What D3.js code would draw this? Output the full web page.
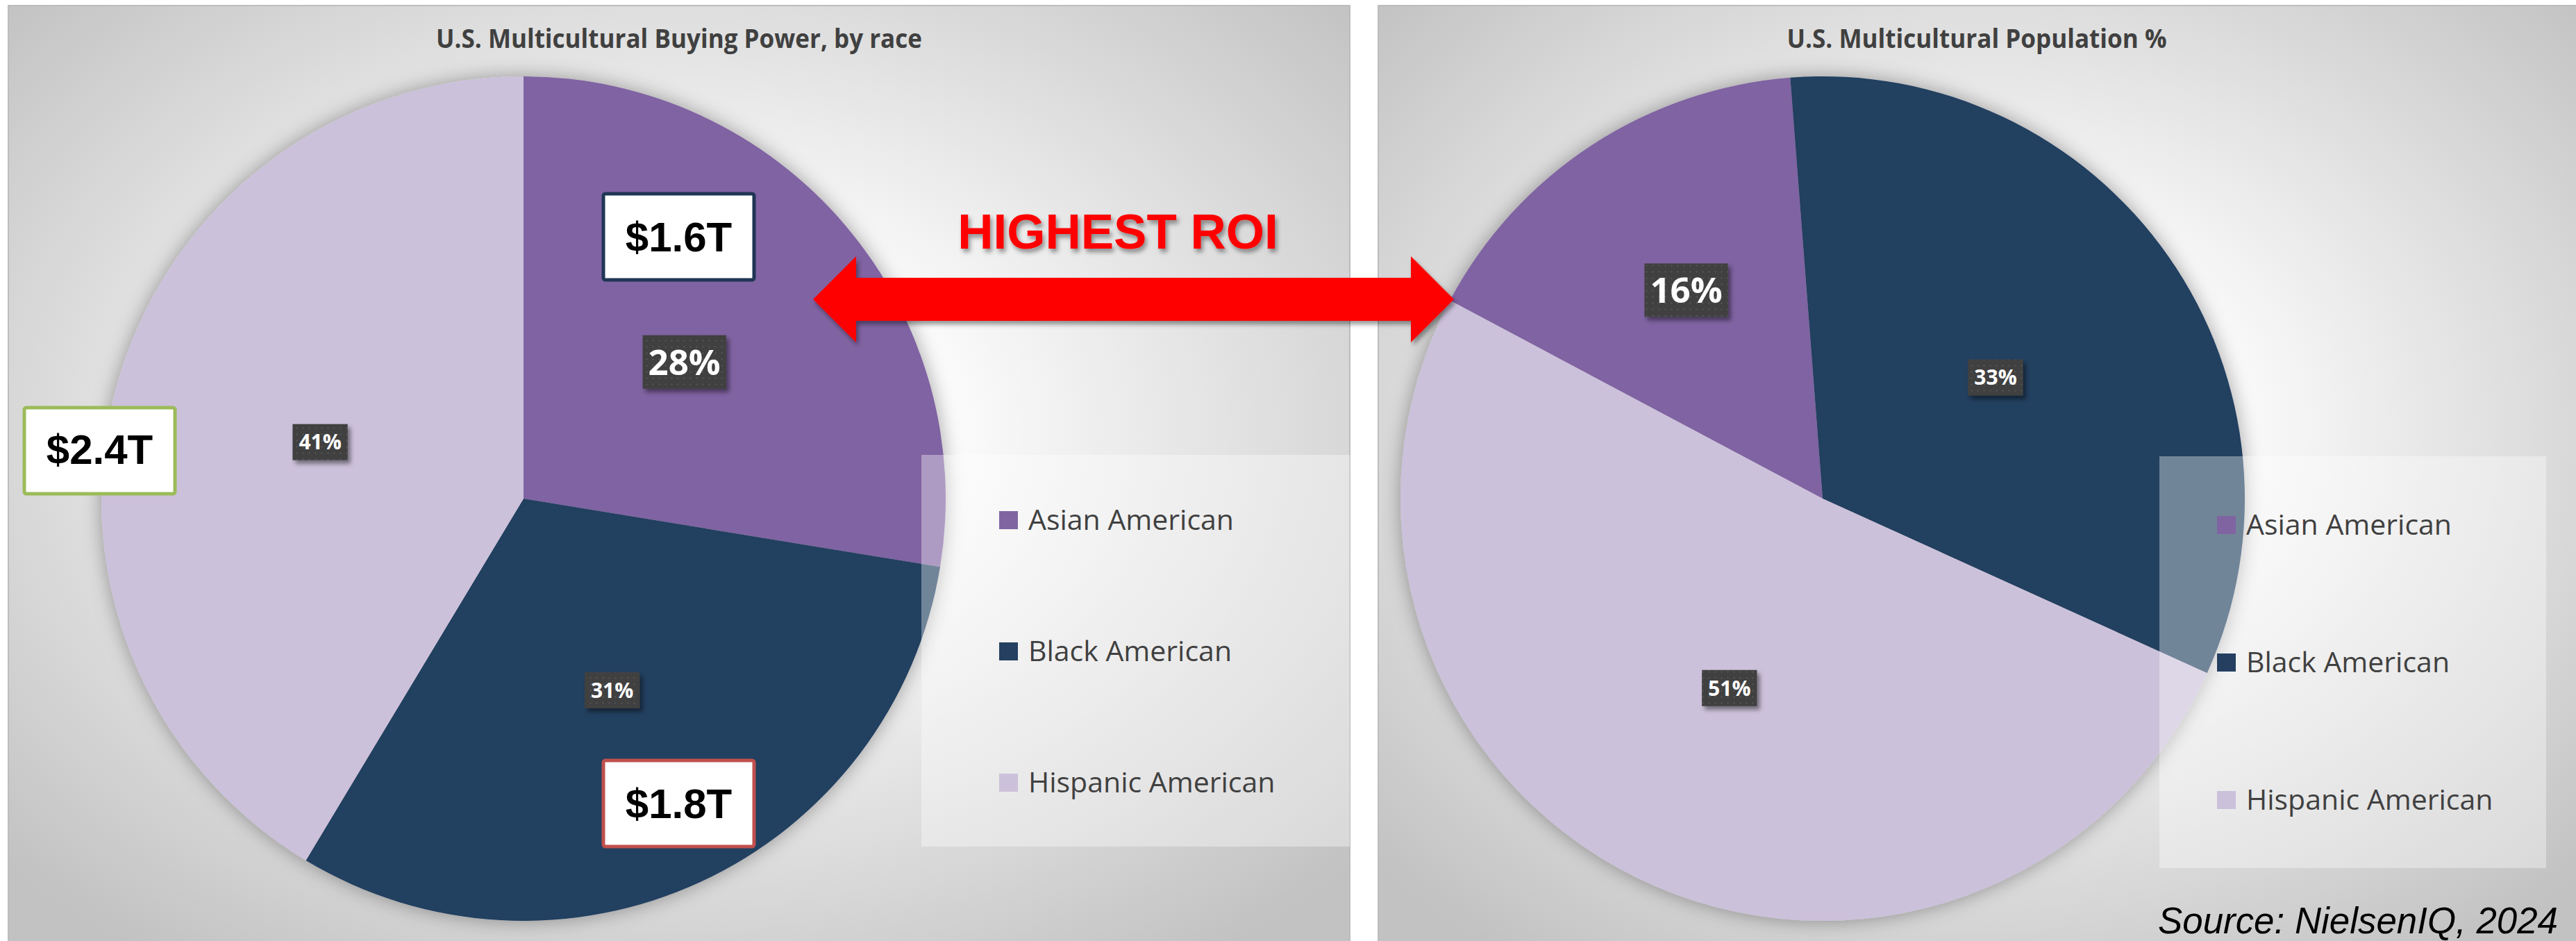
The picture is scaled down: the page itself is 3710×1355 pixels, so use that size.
<!DOCTYPE html>
<html lang="en">
<head>
<meta charset="UTF-8"/>
<title>U.S. Multicultural Buying Power vs Population</title>
<script src="https://d3js.org/d3.v7.min.js"></script>
<style>
  body { margin: 0; background: #ffffff; }
  svg { display: block; }
</style>
</head>
<body>
<script>
    // Data
    var races = ["Asian American", "Black American", "Hispanic American"];
    var buyingPower = [1.6, 1.8, 2.4];      // trillions of dollars
    var populationPct = [16, 33, 51];       // share of multicultural population
    var raceColours = ["#8064a2", "#243f60", "#ccc1da"];
    var titles = ["U.S. Multicultural Buying Power, by race", "U.S. Multicultural Population %"];
    var arrowLabel = "HIGHEST ROI";
    var sourceNote = "Source: NielsenIQ, 2024";

    var w = 3710;
    var h = 1355;
    var R = 608;

    var svg = d3.select("body")
        .append("svg")
        .attr("width", w)
        .attr("height", h);

    var defs = svg.append("defs");

    // Panel background gradient
    var grad = defs.append("radialGradient")
        .attr("id", "panelGrad")
        .attr("cx", "50%").attr("cy", "45%").attr("r", "68%");
    grad.append("stop").attr("offset", "0").attr("stop-color", "#ffffff");
    grad.append("stop").attr("offset", "0.3").attr("stop-color", "#fbfbfb");
    grad.append("stop").attr("offset", "1").attr("stop-color", "#c2c2c2");

    // Soft shadow round the pies
    var pieShadow = defs.append("filter").attr("id", "pieShadow")
        .attr("x", "-20%").attr("y", "-20%").attr("width", "140%").attr("height", "140%");
    pieShadow.append("feDropShadow")
        .attr("dx", 0).attr("dy", 0).attr("stdDeviation", 14)
        .attr("flood-color", "#000").attr("flood-opacity", 0.35);

    var boxShadow = defs.append("filter").attr("id", "boxShadow")
        .attr("x", "-30%").attr("y", "-30%").attr("width", "160%").attr("height", "160%");
    boxShadow.append("feDropShadow")
        .attr("dx", 4).attr("dy", 5).attr("stdDeviation", 3)
        .attr("flood-color", "#000").attr("flood-opacity", 0.45);

    var redShadow = defs.append("filter").attr("id", "redShadow")
        .attr("x", "-10%").attr("y", "-30%").attr("width", "120%").attr("height", "160%");
    redShadow.append("feDropShadow")
        .attr("dx", 3).attr("dy", 5).attr("stdDeviation", 3)
        .attr("flood-color", "#000").attr("flood-opacity", 0.4);

    // Dotted fill for the percentage labels
    var dots = defs.append("pattern").attr("id", "dots")
        .attr("width", 9).attr("height", 9).attr("patternUnits", "userSpaceOnUse");
    dots.append("rect").attr("width", 9).attr("height", 9).attr("fill", "#404040");
    dots.append("circle").attr("cx", 4.5).attr("cy", 4.5).attr("r", 1.1).attr("fill", "#5c5c5c");

    // Two panels
    var panels = [
        { x: 12, y: 8, w: 1932, h: 1360, cx: 754, cy: 718, values: buyingPower, start: 0,
          labelR: [0.5, 0.5, 0.5], legend: { x: 1327, y: 655, w: 617, h: 564, mx: 1439, tx: 1481, y0: 763, dy: 189 } },
        { x: 1985, y: 8, w: 1740, h: 1360, cx: 2625, cy: 718, values: populationPct, start: -62,
          labelR: [0.59, 0.5, 0.5], legend: { x: 3110, y: 657, w: 557, h: 593, mx: 3193, tx: 3235, y0: 770, dy: 198 } }
    ];

    panels.forEach(function(p, pi) {
        var g = svg.append("g");

        g.append("rect")
            .attr("x", p.x).attr("y", p.y)
            .attr("width", p.w).attr("height", p.h)
            .attr("fill", "url(#panelGrad)")
            .attr("stroke", "#bdbdbd")
            .attr("stroke-width", 2);

        g.append("text")
            .attr("x", p.x + p.w / 2 - (pi === 1 ? 8 : 0))
            .attr("y", 69)
            .attr("text-anchor", "middle")
            .attr("font-family", "'Open Sans', sans-serif")
            .attr("font-weight", "bold")
            .attr("font-size", 38)
            .attr("fill", "#404040")
            .attr("textLength", pi === 0 ? 700 : 547)
            .attr("lengthAdjust", "spacingAndGlyphs")
            .text(titles[pi]);

        var a0 = p.start * Math.PI / 180;
        var pie = d3.pie().sort(null).startAngle(a0).endAngle(a0 + 2 * Math.PI);
        var arcs = pie(p.values);
        var arc = d3.arc().innerRadius(0).outerRadius(R);
        var total = d3.sum(p.values);

        var pg = g.append("g")
            .attr("transform", "translate(" + p.cx + "," + p.cy + ")");

        pg.append("g")
            .attr("filter", "url(#pieShadow)")
            .selectAll("path")
            .data(arcs)
            .enter()
            .append("path")
            .attr("d", arc)
            .attr("fill", function(d, i) { return raceColours[i]; });

        // Legend (semi-transparent box over the pie)
        var L = p.legend;
        g.append("rect")
            .attr("x", L.x).attr("y", L.y)
            .attr("width", L.w).attr("height", L.h)
            .attr("fill", "#ffffff")
            .attr("fill-opacity", 0.36);

        races.forEach(function(r, i) {
            var by = L.y0 + i * L.dy;
            g.append("rect")
                .attr("x", L.mx).attr("y", by - 27)
                .attr("width", 27).attr("height", 26)
                .attr("fill", raceColours[i]);
            g.append("text")
                .attr("x", L.tx).attr("y", by)
                .attr("font-family", "'Open Sans', sans-serif")
                .attr("font-size", 41)
                .attr("fill", "#404040")
                .text(r);
        });

        // Percentage data labels
        arcs.forEach(function(d, i) {
            var lr = p.labelR[i] * R;
            var mid = (d.startAngle + d.endAngle) / 2;
            var lx = p.cx + Math.sin(mid) * lr;
            var ly = p.cy - Math.cos(mid) * lr;
            var fs = i === 0 ? 51 : 30;
            var pct = Math.round(d.value / total * 100) + "%";
            var lg = g.append("g");
            var bg = lg.append("rect").attr("fill", "url(#dots)").attr("filter", "url(#boxShadow)");
            var t = lg.append("text")
                .attr("x", lx).attr("y", ly + fs * 0.36)
                .attr("text-anchor", "middle")
                .attr("font-family", "'Open Sans', sans-serif")
                .attr("font-weight", "bold")
                .attr("font-size", fs)
                .attr("fill", "#ffffff")
                .text(pct);
            var tw = t.node().getComputedTextLength();
            var bw = tw + (i === 0 ? 16 : 18);
            var bh = i === 0 ? 77 : 52;
            bg.attr("x", lx - bw / 2).attr("y", ly - bh / 2)
                .attr("width", bw).attr("height", bh);
        });
    });

    // Dollar call-out boxes on the buying power pie
    var callouts = [
        { i: 0, x: 869, y: 279, stroke: "#1f3654", base: 362 },
        { i: 1, x: 869, y: 1095, stroke: "#c0504d", base: 1178 },
        { i: 2, x: 35, y: 587, stroke: "#9bbb59", base: 668 }
    ];
    callouts.forEach(function(c) {
        var bw = 217, bh = 124;
        svg.append("rect")
            .attr("x", c.x).attr("y", c.y)
            .attr("width", bw).attr("height", bh)
            .attr("rx", 3)
            .attr("fill", "#ffffff")
            .attr("stroke", c.stroke)
            .attr("stroke-width", 5);
        svg.append("text")
            .attr("x", c.x + bw / 2).attr("y", c.base)
            .attr("text-anchor", "middle")
            .attr("font-family", "'Liberation Sans', Arial, sans-serif")
            .attr("font-weight", "bold")
            .attr("font-size", 60)
            .attr("fill", "#000000")
            .text("$" + buyingPower[c.i].toFixed(1) + "T");
    });

    // Double-headed arrow between the two pies
    var ax0 = 1171, ax1 = 2094, ay = 431;
    var head = 62, shaft = 31, headH = 62;
    var arrowPts = [
        [ax0, ay], [ax0 + head, ay - headH], [ax0 + head, ay - shaft],
        [ax1 - head, ay - shaft], [ax1 - head, ay - headH], [ax1, ay],
        [ax1 - head, ay + headH], [ax1 - head, ay + shaft],
        [ax0 + head, ay + shaft], [ax0 + head, ay + headH]
    ];
    svg.append("path")
        .attr("d", d3.line()(arrowPts) + "Z")
        .attr("fill", "#ff0000")
        .attr("filter", "url(#redShadow)");

    svg.append("text")
        .attr("x", 1610).attr("y", 358)
        .attr("text-anchor", "middle")
        .attr("font-family", "'Liberation Sans', Arial, sans-serif")
        .attr("font-weight", "bold")
        .attr("font-size", 71)
        .attr("fill", "#ff0000")
        .attr("filter", "url(#redShadow)")
        .text(arrowLabel);

    svg.append("text")
        .attr("x", 3684).attr("y", 1344)
        .attr("text-anchor", "end")
        .attr("font-family", "'Liberation Sans', Arial, sans-serif")
        .attr("font-style", "italic")
        .attr("font-size", 53)
        .attr("fill", "#000000")
        .attr("textLength", 576)
        .attr("lengthAdjust", "spacingAndGlyphs")
        .text(sourceNote);
</script>
</body>
</html>
